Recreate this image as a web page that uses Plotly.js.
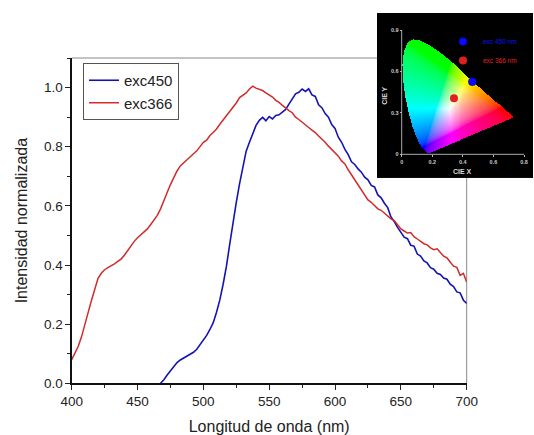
<!DOCTYPE html>
<html>
<head>
<meta charset="utf-8">
<script src="https://cdn.plot.ly/plotly-3.0.1.min.js"></script>
<style>html,body{margin:0;padding:0;background:#fff;}#chart{width:534px;height:435px;}</style>
</head>
<body>
<div id="chart"></div>
<script>
// ---------- Emission spectra ----------
const wavelength = [400,402.5,405,407.5,410,412.5,415,417.5,420,422.5,425,427.5,430,432.5,435,437.5,440,442.5,445,447.5,
450,452.5,455,457.5,460,462.5,465,467.5,470,472.5,475,477.5,480,482.5,485,487.5,490,492.5,495,497.5,
500,502.5,505,507.5,510,512.5,515,517.5,520,522.5,525,527.5,530,532.5,535,537.5,540,542.5,545,547.5,
550,552.5,555,557.5,560,562.5,565,567.5,570,572.5,575,577.5,580,582.5,585,587.5,590,592.5,595,597.5,
600,602.5,605,607.5,610,612.5,615,617.5,620,622.5,625,627.5,630,632.5,635,637.5,640,642.5,645,647.5,
650,652.5,655,657.5,660,662.5,665,667.5,670,672.5,675,677.5,680,682.5,685,687.5,690,692.5,695,697.5,700];

const exc366 = [0.080,0.100,0.125,0.158,0.195,0.240,0.280,0.322,0.355,0.372,
0.384,0.391,0.397,0.404,0.412,0.420,0.433,0.450,0.466,0.480,
0.492,0.503,0.512,0.522,0.537,0.552,0.568,0.590,0.615,0.645,
0.672,0.697,0.718,0.735,0.746,0.755,0.766,0.776,0.786,0.802,
0.815,0.822,0.838,0.848,0.860,0.876,0.890,0.903,0.918,0.935,
0.948,0.966,0.975,0.982,0.995,1.005,0.998,0.993,0.990,0.982,
0.975,0.968,0.957,0.950,0.940,0.930,0.922,0.915,0.900,0.892,
0.884,0.874,0.865,0.856,0.848,0.836,0.826,0.815,0.802,0.790,
0.778,0.768,0.752,0.742,0.722,0.705,0.690,0.672,0.655,0.640,
0.620,0.612,0.600,0.590,0.585,0.575,0.565,0.556,0.550,0.535,
0.522,0.515,0.508,0.510,0.496,0.488,0.480,0.472,0.468,0.458,
0.452,0.455,0.442,0.430,0.424,0.410,0.396,0.392,0.365,0.372,
0.342];

const exc450 = [null,null,null,null,null,null,null,null,null,null,
null,null,null,null,null,null,null,null,null,null,
null,null,null,null,null,null,null,0.000,0.012,0.028,
0.043,0.057,0.070,0.079,0.086,0.093,0.099,0.105,0.115,0.130,
0.147,0.162,0.182,0.205,0.240,0.282,0.335,0.395,0.470,0.545,
0.612,0.675,0.735,0.785,0.815,0.845,0.872,0.889,0.899,0.888,
0.902,0.894,0.906,0.908,0.918,0.926,0.944,0.960,0.979,0.984,
0.995,0.987,0.996,0.975,0.970,0.942,0.932,0.912,0.900,0.875,
0.862,0.832,0.815,0.791,0.773,0.749,0.740,0.725,0.714,0.697,
0.688,0.669,0.664,0.637,0.627,0.609,0.594,0.562,0.547,0.527,
0.512,0.494,0.489,0.467,0.464,0.437,0.430,0.414,0.407,0.391,
0.386,0.372,0.368,0.356,0.352,0.335,0.327,0.309,0.306,0.281,
0.270];

const seriesNames = ['exc450', 'exc366'];

// ---------- CIE 1931 inset ----------
const cieLabels = ['exc 450 nm', 'exc 366 nm'];
const cieX = [0.462, 0.342];
const cieY = [0.526, 0.405];

// CIE 1931 spectral locus (380..700 nm)
const locusX = [0.1741,0.1738,0.1733,0.1726,0.1714,0.1689,0.1644,0.1566,0.1440,0.1241,
0.1096,0.0913,0.0687,0.0454,0.0235,0.0082,0.0039,0.0139,0.0389,0.0743,
0.1142,0.1547,0.1929,0.2296,0.2658,0.3016,0.3373,0.3731,0.4087,0.4441,
0.4788,0.5125,0.5448,0.5752,0.6029,0.6270,0.6482,0.6658,0.6801,0.6915,
0.7006,0.7079,0.7140,0.7190,0.7230,0.7260,0.7347];
const locusY = [0.0050,0.0049,0.0048,0.0048,0.0051,0.0069,0.0109,0.0177,0.0297,0.0578,
0.0868,0.1327,0.2007,0.2950,0.4127,0.5384,0.6548,0.7502,0.8120,0.8338,
0.8262,0.8059,0.7816,0.7543,0.7243,0.6923,0.6589,0.6245,0.5896,0.5547,
0.5202,0.4866,0.4544,0.4242,0.3965,0.3725,0.3514,0.3340,0.3197,0.3083,
0.2993,0.2920,0.2859,0.2809,0.2770,0.2740,0.2653];

const W = 534, H = 435;
const font = 'Arial, "Liberation Sans", sans-serif';

// inset geometry
const insX = [-0.1615, 0.8587];
const insY = [-0.1716, 1.0232];
const cdx = 0.0065, cdy = 0.0072;

function inside(px, py) {
  let c = false;
  const n = locusX.length;
  for (let i = 0, j = n - 1; i < n; j = i++) {
    const xi = locusX[i], yi = locusY[i], xj = locusX[j], yj = locusY[j];
    if (((yi > py) !== (yj > py)) && (px < (xj - xi) * (py - yi) / (yj - yi) + xi)) c = !c;
  }
  return c;
}
function gam(c) { return c <= 0.0031308 ? 12.92 * c : 1.055 * Math.pow(c, 1 / 2.4) - 0.055; }
function xyColor(x, y) {
  const X = x / y, Y = 1, Z = (1 - x - y) / y;
  let r = 3.2406 * X - 1.5372 * Y - 0.4986 * Z;
  let g = -0.9689 * X + 1.8758 * Y + 0.0415 * Z;
  let b = 0.0557 * X - 0.2040 * Y + 1.0570 * Z;
  r = Math.max(r, 0); g = Math.max(g, 0); b = Math.max(b, 0);
  const m = Math.max(r, g, b) || 1;
  return [Math.round(255 * gam(r / m)), Math.round(255 * gam(g / m)), Math.round(255 * gam(b / m)), 1];
}
const cols = Math.ceil((insX[1] - insX[0]) / cdx);
const rows = Math.ceil((insY[1] - insY[0]) / cdy);
const img = [];
for (let i = 0; i < rows; i++) {
  const yy = insY[0] + (i + 0.5) * cdy;
  const row = [];
  for (let j = 0; j < cols; j++) {
    const xx = insX[0] + (j + 0.5) * cdx;
    if (yy > 0 && inside(xx, yy)) row.push(xyColor(xx, yy));
    else row.push([0, 0, 0, 1]);
  }
  img.push(row);
}

// main plot area (pixels)
const pL = 71.7, pR = 466.7, pT = 58, pB = 383.3;
const px = v => v / W, py = v => 1 - v / H;

const traces = [
  { type: 'scatter', mode: 'lines', x: wavelength, y: exc450, name: seriesNames[0],
    line: { color: '#1414b4', width: 1.6 }, legend: 'legend', connectgaps: false },
  { type: 'scatter', mode: 'lines', x: wavelength, y: exc366, name: seriesNames[1],
    line: { color: '#d02c2c', width: 1.5 }, legend: 'legend' },
  { type: 'image', xaxis: 'x2', yaxis: 'y2', z: img, colormodel: 'rgba',
    x0: insX[0] + cdx / 2, y0: insY[0] + cdy / 2, dx: cdx, dy: cdy, hoverinfo: 'skip', showlegend: false },
  { type: 'scatter', mode: 'markers', xaxis: 'x2', yaxis: 'y2', x: [cieX[0]], y: [cieY[0]],
    name: '<span style="color:#1010ff">' + cieLabels[0] + '</span>',
    marker: { color: '#0a0aff', size: 8, line: { color: '#000080', width: 0.5 } }, legend: 'legend2' },
  { type: 'scatter', mode: 'markers', xaxis: 'x2', yaxis: 'y2', x: [cieX[1]], y: [cieY[1]],
    name: '<span style="color:#e82020">' + cieLabels[1] + '</span>',
    marker: { color: '#e02020', size: 8 }, legend: 'legend2' }
];

const layout = {
  width: W, height: H,
  margin: { l: 0, r: 0, t: 0, b: 0, pad: 0 },
  paper_bgcolor: '#fff', plot_bgcolor: '#fff',
  font: { family: font, color: '#222', size: 13 },
  showlegend: true,
  xaxis: {
    domain: [px(pL), px(pR)], range: [400, 700], autorange: false,
    tick0: 400, dtick: 50, ticks: 'outside', ticklen: 5, tickwidth: 1, tickcolor: '#222',
    minor: { ticks: 'outside', ticklen: 3, dtick: 25, tickcolor: '#222', showgrid: false },
    showline: true, linecolor: '#111', linewidth: 1.3, showgrid: false, zeroline: false,
    tickfont: { size: 13.5, color: '#222' }, automargin: false,
    title: { text: 'Longitud de onda (nm)', font: { size: 16, color: '#222' }, standoff: 14 }
  },
  yaxis: {
    domain: [py(pB), py(pT)], range: [0, 1.1], autorange: false,
    tick0: 0, dtick: 0.2, tickformat: '.1f', ticks: 'outside', ticklen: 5, tickwidth: 1, tickcolor: '#222',
    minor: { ticks: 'outside', ticklen: 3, dtick: 0.1, tickcolor: '#222', showgrid: false },
    showline: true, linecolor: '#111', linewidth: 1.3, showgrid: false, zeroline: false,
    tickfont: { size: 13.5, color: '#222' }, automargin: false,
    title: { text: 'Intensidad normalizada', font: { size: 16, color: '#222' }, standoff: 12 }
  },
  xaxis2: {
    domain: [px(377), px(533)], range: insX, autorange: false, anchor: 'free', position: py(154.3),
    tickvals: [0, 0.2, 0.4, 0.6, 0.8], ticktext: ['0', '0.2', '0.4', '0.6', '0.8'],
    ticks: 'outside', ticklen: 2, tickcolor: '#bbb', tickwidth: 1,
    tickfont: { size: 5.5, color: '#c8c8c8', weight: 'bold' },
    showline: false, showgrid: false, zeroline: false, automargin: false, fixedrange: true
  },
  yaxis2: {
    domain: [py(178), py(13)], range: insY, autorange: false, anchor: 'free', position: px(401.7),
    scaleanchor: false,
    tickvals: [0, 0.3, 0.6, 0.9], ticktext: ['0', '0.3', '0.6', '0.9'],
    ticks: 'outside', ticklen: 2, tickcolor: '#bbb', tickwidth: 1,
    tickfont: { size: 5.5, color: '#c8c8c8', weight: 'bold' },
    showline: false, showgrid: false, zeroline: false, automargin: false, fixedrange: true
  },
  legend: {
    x: px(83), y: py(63), xanchor: 'left', yanchor: 'top',
    bgcolor: '#fff', bordercolor: '#555', borderwidth: 1,
    font: { size: 15, color: '#222', family: font }, tracegroupgap: 0
  },
  legend2: {
    x: px(443), y: py(27), xanchor: 'left', yanchor: 'top',
    bgcolor: 'rgba(0,0,0,0)', borderwidth: 0,
    font: { size: 6.5, family: font }, tracegroupgap: 0
  },
  shapes: [
    { type: 'line', xref: 'paper', yref: 'paper', layer: 'below',
      x0: px(pL), x1: px(pR), y0: py(pT), y1: py(pT), line: { color: '#888', width: 1 } },
    { type: 'line', xref: 'paper', yref: 'paper', layer: 'below',
      x0: px(pR), x1: px(pR), y0: py(pB), y1: py(pT), line: { color: '#888', width: 1 } },
    { type: 'line', xref: 'x2', yref: 'y2', x0: 0, x1: 0.8, y0: 0, y1: 0, line: { color: '#aaa', width: 1 } },
    { type: 'line', xref: 'x2', yref: 'y2', x0: 0, x1: 0, y0: 0, y1: 0.9, line: { color: '#aaa', width: 1 } }
  ],
  annotations: [
    { xref: 'x2', yref: 'y2', x: 0.4, y: -0.125, text: 'CIE X', showarrow: false,
      font: { size: 7, color: '#dcdcdc', weight: 'bold' }, xanchor: 'center', yanchor: 'middle' },
    { xref: 'x2', yref: 'y2', x: -0.112, y: 0.42, text: 'CIE Y', showarrow: false, textangle: -90,
      font: { size: 7, color: '#dcdcdc', weight: 'bold' }, xanchor: 'center', yanchor: 'middle' }
  ],
  hovermode: false
};

Plotly.newPlot('chart', traces, layout, { staticPlot: true, displayModeBar: false });
</script>
</body>
</html>
